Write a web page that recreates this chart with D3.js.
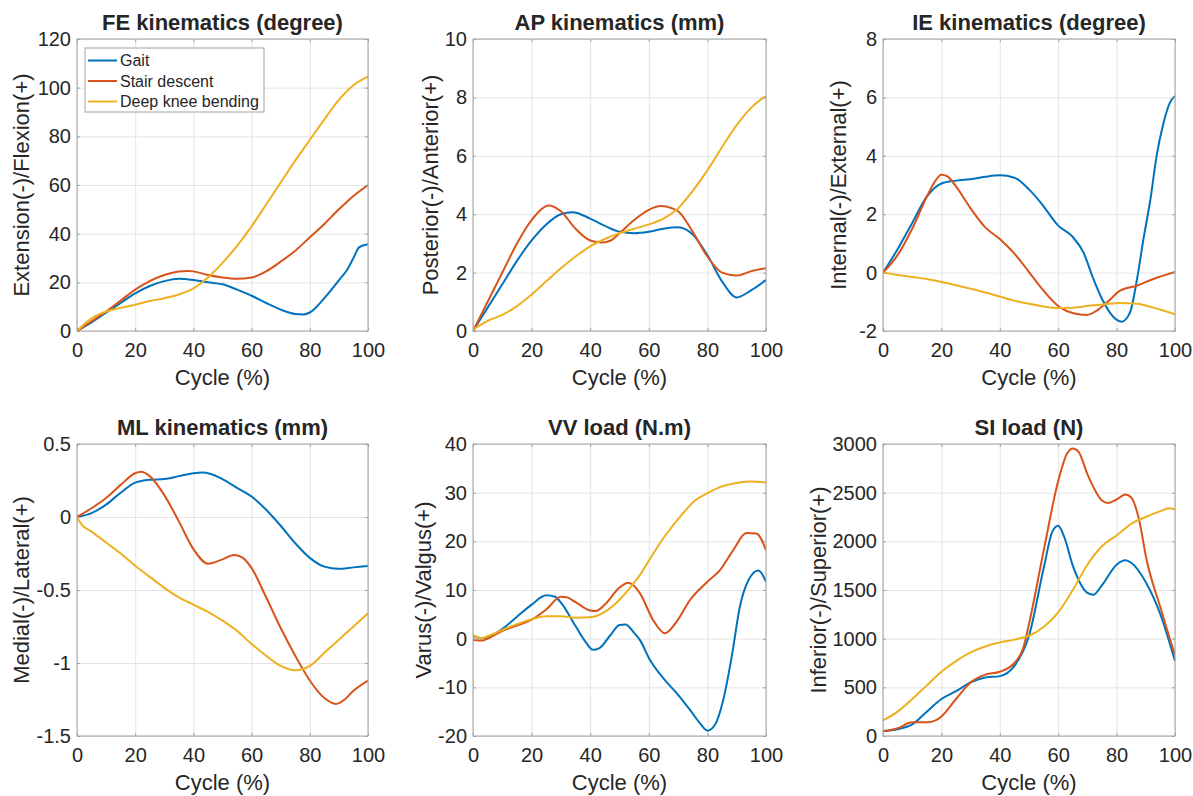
<!DOCTYPE html>
<html>
<head>
<meta charset="utf-8">
<script src="https://cdn.jsdelivr.net/npm/d3@7"></script>
<style>
  body { margin: 0; background: #fff; }
  svg text { font-family: "Liberation Sans", Arial, Helvetica, sans-serif; fill: #262626; }
</style>
</head>
<body>
<svg id="chart" width="1193" height="796"></svg>
<script>
// series names + colours (matlab defaults)
const seriesNames = ['Gait', 'Stair descent', 'Deep knee bending'];
const seriesColors = ['#0072BD', '#D95319', '#EDB120'];

const xTicks = [0, 20, 40, 60, 80, 100];

// FE kinematics (degree)
const feGait = [[0,0],[5,3.5],[10,7.5],[15,11.5],[20,15.5],[25,18.5],[30,20.5],[35,21.5],[40,21],[45,20],[50,19.2],[55,17],[60,14.5],[65,11.5],[70,8.8],[75,7],[78,6.8],[80,7.6],[85,13.5],[90,20.8],[93,25.5],[95,30],[97,34.5],[100,35.7]];
const feStair = [[0,0],[5,4],[10,8],[15,12.5],[20,17],[25,20.5],[30,23],[35,24.5],[38,24.7],[40,24.5],[45,23],[50,22],[55,21.5],[60,22],[65,24.5],[70,28.5],[75,33],[80,38.5],[85,44],[90,50],[95,55.5],[100,60]];
const feDeep = [[0,0],[5,5.2],[10,8],[15,9.5],[20,10.8],[25,12.3],[30,13.5],[35,15],[40,17.5],[45,22],[50,28],[55,35],[60,43],[65,52],[70,61],[75,70],[80,78.5],[85,87],[90,95],[95,101],[100,104.5]];
const feTicks = [0, 20, 40, 60, 80, 100, 120];

// AP kinematics (mm)
const apGait = [[0,0],[5,0.8],[10,1.6],[15,2.4],[20,3.1],[25,3.65],[30,4.0],[34,4.07],[40,3.85],[45,3.6],[50,3.4],[55,3.35],[60,3.4],[65,3.5],[70,3.55],[75,3.3],[80,2.6],[85,1.7],[90,1.15],[95,1.4],[100,1.75]];
const apStair = [[0,0],[5,1.0],[10,2.0],[15,3.0],[20,3.8],[26,4.3],[30,4.1],[35,3.5],[40,3.1],[44,3.03],[47,3.1],[50,3.35],[55,3.8],[60,4.15],[64,4.28],[68,4.2],[70,4.1],[75,3.4],[80,2.55],[85,2.0],[90,1.9],[95,2.05],[100,2.15]];
const apDeep = [[0,0.05],[5,0.35],[10,0.55],[15,0.85],[20,1.25],[25,1.7],[30,2.15],[35,2.55],[40,2.9],[45,3.15],[50,3.35],[55,3.5],[60,3.65],[65,3.85],[70,4.2],[75,4.8],[80,5.5],[85,6.3],[90,7.05],[95,7.65],[100,8.05]];
const apTicks = [0, 2, 4, 6, 8, 10];

// IE kinematics (degree)
const ieGait = [[0,0],[5,0.8],[10,1.7],[15,2.6],[20,3.05],[25,3.15],[30,3.2],[35,3.28],[40,3.33],[45,3.25],[50,2.85],[54,2.4],[60,1.61],[65,1.22],[68.6,0.7],[72,-0.2],[75.5,-1.0],[79,-1.53],[81.7,-1.68],[84.6,-1.36],[87,-0.22],[89.2,1.15],[91.6,2.52],[93.7,4.0],[96,5.1],[98.3,5.83],[100,6.05]];
const ieStair = [[0,0],[5,0.6],[10,1.5],[15,2.6],[18,3.15],[20,3.35],[22,3.3],[25,2.95],[30,2.2],[35,1.55],[40,1.15],[45,0.65],[50,0.02],[54,-0.5],[60.6,-1.19],[65.2,-1.39],[69.8,-1.45],[73.2,-1.3],[76.7,-1.02],[81.2,-0.62],[86.9,-0.45],[92.6,-0.22],[100,0.02]];
const ieDeep = [[0,0],[5,-0.08],[10,-0.15],[15,-0.22],[20,-0.32],[25,-0.43],[30,-0.55],[35,-0.68],[40,-0.82],[45,-0.96],[50,-1.07],[54,-1.14],[60,-1.21],[65,-1.2],[71,-1.13],[76,-1.08],[81,-1.04],[87,-1.07],[92.6,-1.2],[96,-1.3],[100,-1.43]];
const ieTicks = [-2, 0, 2, 4, 6, 8];

// ML kinematics (mm)
const mlGait = [[0,0],[5,0.027],[10,0.085],[15,0.166],[20,0.235],[25,0.255],[30,0.26],[35,0.28],[40,0.3],[43,0.305],[46,0.295],[50,0.26],[55,0.2],[60,0.14],[65,0.05],[70,-0.06],[75,-0.18],[80,-0.28],[85,-0.34],[90,-0.355],[95,-0.345],[100,-0.335]];
const mlStair = [[0,0],[5,0.06],[10,0.13],[15,0.22],[20,0.3],[22,0.31],[25,0.28],[30,0.15],[35,-0.03],[40,-0.22],[45,-0.32],[50,-0.29],[54,-0.26],[57,-0.28],[60,-0.35],[65,-0.55],[70,-0.76],[75,-0.95],[80,-1.12],[85,-1.24],[89,-1.28],[92,-1.25],[95,-1.19],[100,-1.12]];
const mlDeep = [[0,0],[1.5,-0.05],[5,-0.1],[10,-0.175],[15,-0.25],[20,-0.334],[25,-0.41],[30,-0.485],[35,-0.55],[40,-0.6],[45,-0.65],[50,-0.71],[55,-0.78],[60,-0.87],[65,-0.95],[70,-1.02],[75,-1.05],[80,-1.02],[85,-0.93],[90,-0.84],[95,-0.75],[100,-0.66]];
const mlTicks = [-1.5, -1, -0.5, 0, 0.5];

// VV load (N.m)
const vvGait = [[0,0.5],[3,0.1],[5,0.3],[10,2.0],[15,4.5],[20,7.0],[25,8.9],[28,8.6],[30,7.4],[35,2.6],[38,-0.3],[41,-2.3],[43,-2.0],[47,0.8],[50,2.8],[52,2.9],[55,1.2],[57,-0.3],[60.4,-4.4],[65.5,-8.5],[69.5,-11.2],[74,-14.6],[77.5,-17.4],[80,-18.9],[82.6,-17.7],[85.4,-12.6],[88.3,-3.7],[91.1,6.6],[94,12],[97.4,14],[100,11.7]];
const vvStair = [[0,-0.2],[3,-0.4],[5,0],[10,1.6],[15,2.7],[20,3.9],[25,6],[30,8.6],[32,8.5],[35,7.5],[40,5.8],[42,5.7],[45,7],[50,10.5],[53,11.5],[55,10.8],[57,9.3],[61.5,3.8],[65.5,1.1],[69.5,3.5],[74,7.9],[80,11.7],[84.3,14.1],[88.8,18.2],[93.3,21.7],[96.7,21.6],[100,18.2]];
const vvDeep = [[0,0.7],[3,0.1],[5,0.5],[10,1.8],[15,3.0],[20,4.0],[25,4.6],[30,4.6],[35,4.3],[40,4.4],[45,5.5],[50,8],[55,11.5],[57,13.1],[61,17],[66,21.5],[71,25.3],[76,28.5],[80,29.9],[85,31.3],[90,32.0],[95,32.3],[100,32.1]];
const vvTicks = [-20, -10, 0, 10, 20, 30, 40];

// SI load (N)
const siGait = [[0,50],[5,70],[10,120],[15,250],[20,380],[25,460],[30,550],[35,600],[40,615],[45,720],[50,1030],[55,1720],[58,2100],[60,2160],[62,2050],[65,1750],[70,1470],[72,1450],[75,1550],[80,1760],[83,1805],[85,1780],[90,1580],[95,1250],[100,770]];
const siStair = [[0,50],[5,80],[10,140],[15,140],[18,160],[20,200],[25,380],[30,550],[35,630],[40,660],[45,750],[48,900],[50,1150],[55,1900],[60,2620],[63,2900],[65,2955],[67,2920],[70,2690],[75,2420],[77,2395],[80,2430],[83,2480],[85,2450],[88,2180],[90,1850],[95,1320],[100,830]];
const siDeep = [[0,160],[5,250],[10,380],[15,520],[20,660],[25,770],[30,860],[35,920],[40,960],[45,990],[50,1030],[55,1120],[60,1270],[65,1500],[70,1760],[75,1950],[80,2060],[85,2180],[90,2250],[95,2310],[98,2340],[100,2330]];
const siTicks = [0, 500, 1000, 1500, 2000, 2500, 3000];

// layout
const cols = [{ x: 77, w: 291 }, { x: 473, w: 293 }, { x: 883, w: 292 }];
const rows = [{ y: 39, h: 292 }, { y: 444, h: 292 }];

const panels = [
  { title: 'FE kinematics (degree)', ylabel: 'Extension(-)/Flexion(+)', ticks: feTicks, series: [feGait, feStair, feDeep], col: 0, row: 0, labOff: 48, legend: true },
  { title: 'AP kinematics (mm)', ylabel: 'Posterior(-)/Anterior(+)', ticks: apTicks, series: [apGait, apStair, apDeep], col: 1, row: 0, labOff: 35.5 },
  { title: 'IE kinematics (degree)', ylabel: 'Internal(-)/External(+)', ticks: ieTicks, series: [ieGait, ieStair, ieDeep], col: 2, row: 0, labOff: 37.5 },
  { title: 'ML kinematics (mm)', ylabel: 'Medial(-)/Lateral(+)', ticks: mlTicks, series: [mlGait, mlStair, mlDeep], col: 0, row: 1, labOff: 48 },
  { title: 'VV load (N.m)', ylabel: 'Varus(-)/Valgus(+)', ticks: vvTicks, series: [vvGait, vvStair, vvDeep], col: 1, row: 1, labOff: 42 },
  { title: 'SI load (N)', ylabel: 'Inferior(-)/Superior(+)', ticks: siTicks, series: [siGait, siStair, siDeep], col: 2, row: 1, labOff: 57 }
];

const svg = d3.select('#chart');
const frameColor = '#a2a2a2';
const gridColor = '#e4e4e4';
const fmt = d => String(d);

panels.forEach((p, pi) => {
  const c = cols[p.col], r = rows[p.row];
  const w = c.w, h = r.h;
  const g = svg.append('g').attr('transform', `translate(${c.x},${r.y})`);

  const x = d3.scaleLinear().domain([0, 100]).range([0, w]);
  const y = d3.scaleLinear().domain(d3.extent(p.ticks)).range([h, 0]);

  // grid
  g.append('g').attr('transform', `translate(0,${h})`)
    .call(d3.axisBottom(x).tickValues(xTicks).tickSize(-h).tickFormat(''))
    .call(s => s.select('.domain').remove())
    .call(s => s.selectAll('line').attr('stroke', gridColor));
  g.append('g')
    .call(d3.axisLeft(y).tickValues(p.ticks).tickSize(-w).tickFormat(''))
    .call(s => s.select('.domain').remove())
    .call(s => s.selectAll('line').attr('stroke', gridColor));

  // curves
  g.append('clipPath').attr('id', 'clip' + pi)
    .append('rect').attr('width', w).attr('height', h);
  const line = d3.line().x(d => x(d[0])).y(d => y(d[1])).curve(d3.curveMonotoneX);
  g.append('g').attr('clip-path', `url(#clip${pi})`)
    .selectAll('path').data(p.series).join('path')
    .attr('d', line)
    .attr('fill', 'none')
    .attr('stroke', (d, i) => seriesColors[i])
    .attr('stroke-width', 2)
    .attr('stroke-linejoin', 'round');

  // frame
  g.append('rect').attr('width', w).attr('height', h)
    .attr('fill', 'none').attr('stroke', frameColor).attr('stroke-width', 1);

  // ticks + labels (inward ticks like matlab)
  const styleAxis = s => {
    s.select('.domain').remove();
    s.selectAll('line').attr('stroke', frameColor);
    s.selectAll('text').attr('font-size', 20).attr('fill', '#262626');
  };
  g.append('g').attr('transform', `translate(0,${h})`)
    .call(d3.axisBottom(x).tickValues(xTicks).tickSize(-3).tickPadding(12).tickFormat(fmt))
    .call(styleAxis);
  g.append('g')
    .call(d3.axisTop(x).tickValues(xTicks).tickSize(-3).tickFormat(''))
    .call(styleAxis);
  g.append('g')
    .call(d3.axisLeft(y).tickValues(p.ticks).tickSize(-3).tickPadding(6).tickFormat(fmt))
    .call(styleAxis);
  g.append('g').attr('transform', `translate(${w},0)`)
    .call(d3.axisRight(y).tickValues(p.ticks).tickSize(-3).tickFormat(''))
    .call(styleAxis);

  // title
  g.append('text')
    .attr('x', w / 2).attr('y', -9)
    .attr('text-anchor', 'middle')
    .attr('font-size', 22).attr('font-weight', 'bold')
    .attr('fill', '#000')
    .text(p.title);

  // x label
  g.append('text')
    .attr('x', w / 2).attr('y', h + 54)
    .attr('text-anchor', 'middle')
    .attr('font-size', 22)
    .text('Cycle (%)');

  // y label
  g.append('text')
    .attr('transform', `translate(${-p.labOff},${h / 2}) rotate(-90)`)
    .attr('text-anchor', 'middle')
    .attr('font-size', 22)
    .text(p.ylabel);

  if (p.legend) {
    const lg = g.append('g').attr('transform', 'translate(8,9)');
    lg.append('rect').attr('width', 179).attr('height', 64)
      .attr('fill', '#fff').attr('stroke', frameColor);
    const items = lg.selectAll('g.item').data(seriesNames).join('g')
      .attr('class', 'item')
      .attr('transform', (d, i) => `translate(0,${12.5 + i * 20.5})`);
    items.append('line').attr('x1', 3).attr('x2', 32)
      .attr('stroke', (d, i) => seriesColors[i]).attr('stroke-width', 2);
    items.append('text').attr('x', 35).attr('dy', '0.35em')
      .attr('font-size', 16).attr('fill', '#000')
      .text(d => d);
  }
});
</script>
</body>
</html>
